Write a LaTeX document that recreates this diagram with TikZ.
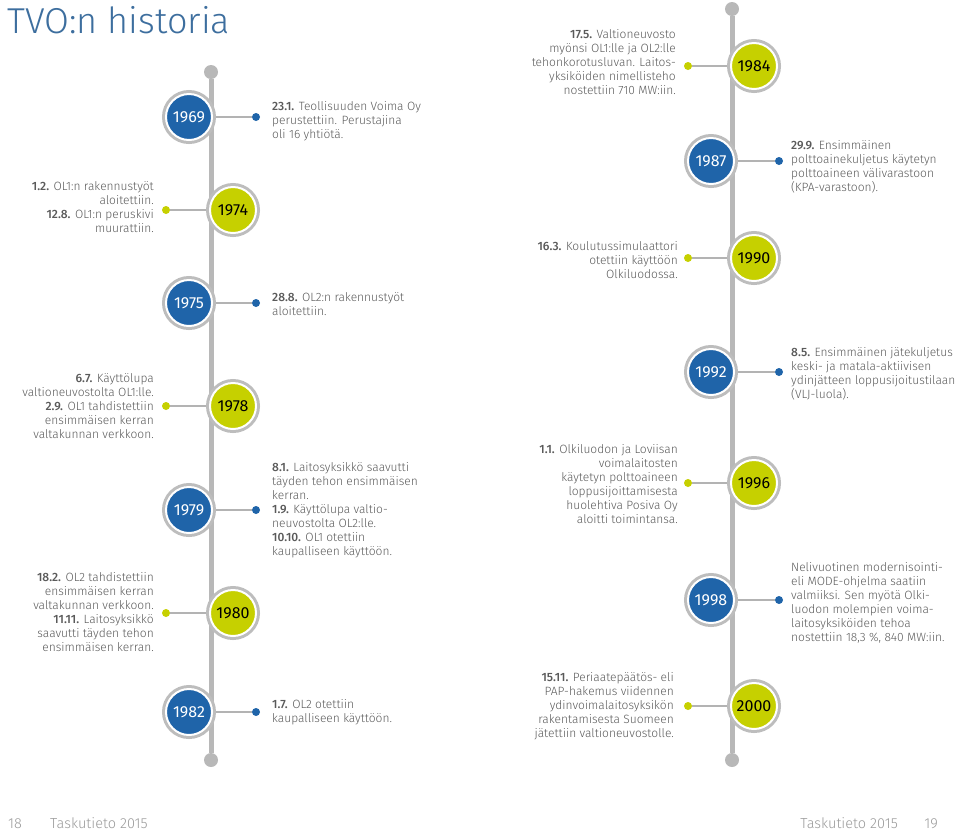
\documentclass[tikz,border=0pt]{standalone}
\usepackage{fontspec}
\setmainfont{Fira Sans}[UprightFont={* Light},BoldFont={* Medium}]
\newfontfamily\yearfont{Fira Sans}
\usepackage{xcolor}
\usetikzlibrary{positioning}
\definecolor{tvoblue}{HTML}{1F64A9}
\definecolor{tvogreen}{HTML}{C6D000}
\definecolor{ringgray}{HTML}{BDBDBD}
\definecolor{spinegray}{HTML}{B8B8B8}
\definecolor{conngray}{HTML}{B3B3B3}
\definecolor{textgray}{HTML}{5A5A5A}
\definecolor{titleblue}{HTML}{3D6E9E}
\definecolor{footgray}{HTML}{9A9A9A}

\begin{document}
\begin{tikzpicture}[x=1pt, y=-1pt,
  spine/.style={line width=5pt, spinegray},
  knob/.style={circle, fill=spinegray, minimum size=14pt, inner sep=0pt},
  yearbase/.style={circle, minimum size=46pt, inner sep=0pt, outer sep=4pt,
    font=\yearfont\fontsize{16}{16}\selectfont,
    preaction={draw=ringgray, line width=8pt}, draw=white, line width=2pt},
  yearblue/.style={yearbase, fill=tvoblue, text=white},
  yeargreen/.style={yearbase, fill=tvogreen, text=black},
  dotblue/.style={circle, fill=tvoblue, minimum size=8pt, inner sep=0pt},
  dotgreen/.style={circle, fill=tvogreen, minimum size=8pt, inner sep=0pt},
  conn/.style={line width=2pt, conngray},
  evright/.style={anchor=west, align=left, inner sep=0pt, text=textgray,
    font=\fontsize{12}{14}\selectfont},
  evleft/.style={anchor=east, align=right, inner sep=0pt, text=textgray,
    font=\fontsize{12}{14}\selectfont},
  foot/.style={anchor=base west, inner sep=0pt, text=footgray, font=\fontsize{14.5}{14.5}\selectfont}
]
  \useasboundingbox (0,0) rectangle (960,831);

  \node[anchor=base west, inner sep=0pt, text=titleblue, font=\fontsize{36}{36}\selectfont]
    (title) at (7,33) {TVO:n historia};

  % Timeline spines
  \node[knob] (topL) at (211,72) {};
  \node[knob] (botL) at (211,760) {};
  \node[knob] (topR) at (732,9) {};
  \node[knob] (botR) at (732,760) {};
  \draw[spine] (topL) -- (botL);
  \draw[spine] (topR) -- (botR);

  % Left spine
  \node[yearblue] (y1969) at (189,117) {1969};
  \node[dotblue] (d1969) at (256,117) {};
  \draw[conn] (y1969) -- (d1969);
  \node[evright] (t1969) at (272,121) {\textbf{23.1.} Teollisuuden Voima Oy\\perustettiin. Perustajina\\oli 16 yhtiötä.};

  \node[yeargreen] (y1974) at (233,210) {1974};
  \node[dotgreen] (d1974) at (166,210) {};
  \draw[conn] (y1974) -- (d1974);
  \node[evleft] (t1974) at (154,207) {\textbf{1.2.} OL1:n rakennustyöt\\aloitettiin.\\\textbf{12.8.} OL1:n peruskivi\\muurattiin.};

  \node[yearblue] (y1975) at (189,303) {1975};
  \node[dotblue] (d1975) at (256,303) {};
  \draw[conn] (y1975) -- (d1975);
  \node[evright] (t1975) at (272,304) {\textbf{28.8.} OL2:n rakennustyöt\\aloitettiin.};

  \node[yeargreen] (y1978) at (233,406) {1978};
  \node[dotgreen] (d1978) at (166,406) {};
  \draw[conn] (y1978) -- (d1978);
  \node[evleft] (t1978) at (154,406) {\textbf{6.7.} Käyttölupa\\valtioneuvostolta OL1:lle.\\\textbf{2.9.} OL1 tahdistettiin\\ensimmäisen kerran\\valtakunnan verkkoon.};

  \node[yearblue] (y1979) at (189,510) {1979};
  \node[dotblue] (d1979) at (256,510) {};
  \draw[conn] (y1979) -- (d1979);
  \node[evright] (t1979) at (272,510) {\textbf{8.1.} Laitosyksikkö saavutti\\täyden tehon ensimmäisen\\kerran.\\\textbf{1.9.} Käyttölupa valtio-\\neuvostolta OL2:lle.\\\textbf{10.10.} OL1 otettiin\\kaupalliseen käyttöön.};

  \node[yeargreen] (y1980) at (233,613) {1980};
  \node[dotgreen] (d1980) at (166,613) {};
  \draw[conn] (y1980) -- (d1980);
  \node[evleft] (t1980) at (154,612) {\textbf{18.2.} OL2 tahdistettiin\\ensimmäisen kerran\\valtakunnan verkkoon.\\\textbf{11.11.} Laitosyksikkö\\saavutti täyden tehon\\ensimmäisen kerran.};

  \node[yearblue] (y1982) at (189,712) {1982};
  \node[dotblue] (d1982) at (256,712) {};
  \draw[conn] (y1982) -- (d1982);
  \node[evright] (t1982) at (272,712) {\textbf{1.7.} OL2 otettiin\\kaupalliseen käyttöön.};

  % Right spine
  \node[yeargreen] (y1984) at (754,66) {1984};
  \node[dotgreen] (d1984) at (688,66) {};
  \draw[conn] (y1984) -- (d1984);
  \node[evleft] (t1984) at (676,62) {\textbf{17.5.} Valtioneuvosto\\myönsi OL1:lle ja OL2:lle\\tehonkorotusluvan. Laitos-\\yksiköiden nimellisteho\\nostettiin 710 MW:iin.};

  \node[yearblue] (y1987) at (711,161) {1987};
  \node[dotblue] (d1987) at (779,161) {};
  \draw[conn] (y1987) -- (d1987);
  \node[evright] (t1987) at (791,167) {\textbf{29.9.} Ensimmäinen\\polttoainekuljetus käytetyn\\polttoaineen välivarastoon\\(KPA-varastoon).};

  \node[yeargreen] (y1990) at (754,258) {1990};
  \node[dotgreen] (d1990) at (688,258) {};
  \draw[conn] (y1990) -- (d1990);
  \node[evleft] (t1990) at (678,260) {\textbf{16.3.} Koulutussimulaattori\\otettiin käyttöön\\Olkiluodossa.};

  \node[yearblue] (y1992) at (711,372) {1992};
  \node[dotblue] (d1992) at (779,372) {};
  \draw[conn] (y1992) -- (d1992);
  \node[evright] (t1992) at (791,374) {\textbf{8.5.} Ensimmäinen jätekuljetus\\keski- ja matala-aktiivisen\\ydinjätteen loppusijoitustilaan\\(VLJ-luola).};

  \node[yeargreen] (y1996) at (754,483) {1996};
  \node[dotgreen] (d1996) at (688,483) {};
  \draw[conn] (y1996) -- (d1996);
  \node[evleft] (t1996) at (678,484) {\textbf{1.1.} Olkiluodon ja Loviisan\\voimalaitosten\\käytetyn polttoaineen\\loppusijoittamisesta\\huolehtiva Posiva Oy\\aloitti toimintansa.};

  \node[yearblue] (y1998) at (711,600) {1998};
  \node[dotblue] (d1998) at (779,600) {};
  \draw[conn] (y1998) -- (d1998);
  \node[evright] (t1998) at (791,603) {Nelivuotinen modernisointi-\\eli MODE-ohjelma saatiin\\valmiiksi. Sen myötä Olki-\\luodon molempien voima-\\laitosyksiköiden tehoa\\nostettiin 18,3 \%, 840 MW:iin.};

  \node[yeargreen] (y2000) at (754,706) {2000};
  \node[dotgreen] (d2000) at (688,706) {};
  \draw[conn] (y2000) -- (d2000);
  \node[evleft] (t2000) at (674,706) {\textbf{15.11.} Periaatepäätös- eli\\PAP-hakemus viidennen\\ydinvoimalaitosyksikön\\rakentamisesta Suomeen\\jätettiin valtioneuvostolle.};

  % Page footer
  \node[foot] (pgL) at (8,828) {18};
  \node[foot] (tsL) at (50,828) {Taskutieto 2015};
  \node[foot, anchor=base east] (pgR) at (938,828) {19};
  \node[foot, anchor=base east] (tsR) at (898,828) {Taskutieto 2015};
\end{tikzpicture}
\end{document}
